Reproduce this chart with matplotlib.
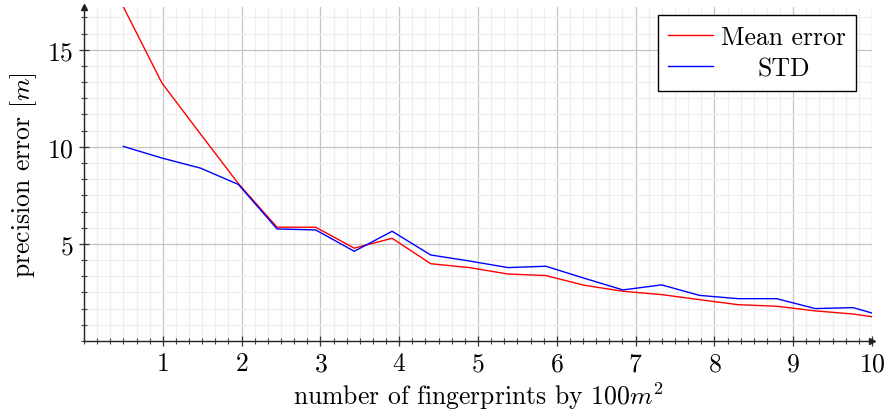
import matplotlib
matplotlib.use("Agg")
import matplotlib.pyplot as plt
from matplotlib.ticker import MultipleLocator, FixedLocator

# data
fingerprints = [0.5, 0.99, 1.48, 1.96, 2.45, 2.94, 3.43, 3.91, 4.4, 4.89, 5.38,
                5.86, 6.35, 6.84, 7.33, 7.81, 8.3, 8.79, 9.28, 9.76, 10.0]
mean_error = [17.2, 13.28, 10.65, 8.1, 5.86, 5.86, 4.78, 5.29, 3.98, 3.78, 3.45,
              3.37, 2.87, 2.56, 2.39, 2.13, 1.87, 1.79, 1.55, 1.39, 1.25]
std_error = [10.02, 9.42, 8.9, 8.06, 5.77, 5.72, 4.62, 5.65, 4.43, 4.12, 3.78,
             3.85, 3.23, 2.63, 2.89, 2.35, 2.18, 2.18, 1.67, 1.72, 1.44]
xticks = [1, 2, 3, 4, 5, 6, 7, 8, 9, 10]
yticks = [5, 10, 15]

plt.rcParams['font.family'] = 'cmr10'
plt.rcParams['mathtext.fontset'] = 'cm'
plt.rcParams['axes.formatter.use_mathtext'] = True

fs = 18.5

fig = plt.figure(figsize=(8.87, 4.14), dpi=100)
ax = fig.add_axes([0.0947, 0.1739, 0.8884, 0.8068])

ax.plot(fingerprints, mean_error, color='#ff0000', lw=1.0, label='Mean error')
ax.plot(fingerprints, std_error, color='#0000ff', lw=1.0, label='STD')

ax.set_xlim(0, 10)
ax.set_ylim(0, 17.2)
ax.xaxis.set_major_locator(FixedLocator(xticks))
ax.yaxis.set_major_locator(FixedLocator(yticks))
ax.xaxis.set_minor_locator(MultipleLocator(1 / 6))
ax.yaxis.set_minor_locator(MultipleLocator(5 / 6))

ax.grid(which='major', color='#c4c4c4', lw=0.9)
ax.grid(which='minor', color='#efefef', lw=0.9)
ax.set_axisbelow(True)

for side in ('top', 'right'):
    ax.spines[side].set_visible(False)
for side in ('left', 'bottom'):
    ax.spines[side].set_color('#222222')
    ax.spines[side].set_linewidth(1.0)

# pgfplots style axis arrows
ax.plot(1, 0, marker='>', color='#222222', ms=5, transform=ax.transAxes, clip_on=False)
ax.plot(0, 1, marker='^', color='#222222', ms=5, transform=ax.transAxes, clip_on=False)

ax.tick_params(which='major', direction='inout', length=7, width=0.9,
               color='#333333', labelsize=fs, pad=4)
ax.tick_params(which='minor', direction='inout', length=5, width=0.8,
               color='#444444')

ax.set_xlabel('number of fingerprints by $100m^2$', fontsize=fs, labelpad=3)
ax.set_ylabel('precision error $[m]$', fontsize=fs, labelpad=6)

leg = ax.legend(loc='upper right', bbox_to_anchor=(0.98, 0.976), borderaxespad=0,
                fontsize=fs, fancybox=False, framealpha=1, edgecolor='black',
                handlelength=1.75, handletextpad=0.3, borderpad=0.4, labelspacing=0.3)
leg.get_frame().set_linewidth(1.0)

# centre the shorter label under the longer one, like pgfplots does
fig.canvas.draw()
renderer = fig.canvas.get_renderer()
w0 = leg.texts[0].get_window_extent(renderer).width
w1 = leg.texts[1].get_window_extent(renderer).width
leg.texts[1].set_x((w0 - w1) / 2)

fig.savefig('out.png', dpi=100)
